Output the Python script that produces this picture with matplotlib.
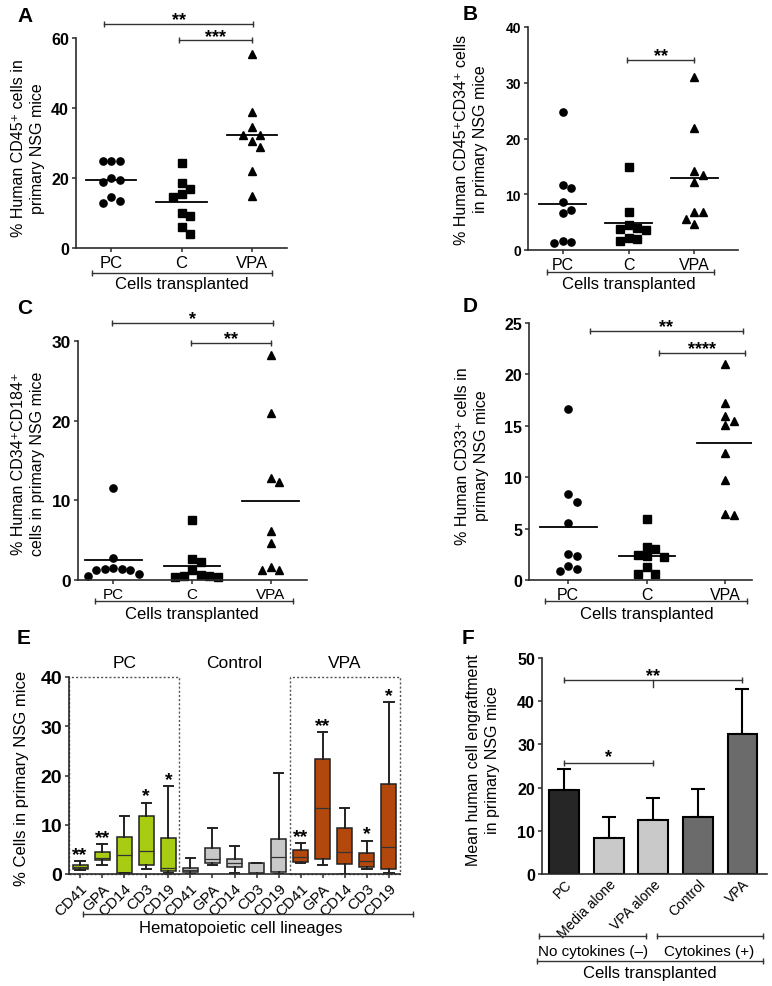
import numpy as np
import matplotlib
matplotlib.use('Agg')
import matplotlib.pyplot as plt
from matplotlib.patches import Rectangle

plt.rcParams['font.family'] = ['Liberation Sans', 'DejaVu Sans']
plt.rcParams['axes.linewidth'] = 1.2

# ---------------- data ----------------
groups = ['PC', 'C', 'VPA']

a_pc = [24.9, 24.9, 24.9, 19.3, 19.0, 20.1, 14.6, 13.0, 13.4]
a_c = [24.2, 18.6, 17.0, 14.7, 15.3, 10.0, 9.1, 5.9, 4.0]
a_vpa = [55.5, 38.9, 34.6, 32.4, 32.4, 30.5, 28.8, 21.9, 14.8]

b_pc = [24.7, 11.6, 11.1, 8.6, 7.2, 6.7, 1.6, 1.2, 1.4]
b_c = [14.9, 6.8, 4.5, 3.7, 3.6, 3.9, 2.1, 1.7, 2.0]
b_vpa = [31.1, 21.9, 14.2, 13.4, 12.2, 6.9, 6.8, 4.6, 5.6]

c_pc = [11.6, 2.7, 1.5, 1.4, 1.2, 0.5, 0.75, 1.2, 1.4]
c_c = [7.5, 2.6, 2.3, 0.6, 0.55, 0.4, 0.4, 0.55, 1.2]
c_vpa = [28.3, 21.0, 12.8, 12.3, 6.1, 4.7, 1.6, 1.2, 1.2]

d_pc = [16.6, 8.4, 7.6, 5.5, 2.5, 2.3, 1.4, 1.1, 0.9]
d_c = [5.9, 3.2, 3.0, 2.3, 2.2, 2.4, 1.3, 0.55, 0.55]
d_vpa = [21.0, 17.2, 16.0, 15.5, 15.1, 12.4, 9.7, 6.3, 6.4]

# panel E: box stats (whislo, q1, med, q3, whishi)
e_lineages = ['CD41', 'GPA', 'CD14', 'CD3', 'CD19']
e_groups = ['PC', 'Control', 'VPA']
e_whislo = [0.75, 1.9, 0.15, 0.95, 0.15,
            0.05, 1.9, 0.3, 0.05, 0.1,
            2.2, 1.8, 0.05, 1.1, 0.15]
e_q1 = [0.95, 2.9, 0.3, 1.9, 0.55,
        0.4, 2.2, 1.5, 0.15, 0.4,
        2.4, 3.1, 2.0, 1.35, 0.95]
e_med = [1.4, 3.3, 3.8, 4.7, 1.2,
         0.8, 3.0, 2.2, 0.3, 3.5,
         3.5, 13.5, 4.5, 2.6, 5.4]
e_q3 = [1.9, 4.5, 7.5, 11.7, 7.4,
        1.2, 5.3, 3.1, 2.2, 7.2,
        4.8, 23.3, 9.3, 4.3, 18.3]
e_whishi = [2.6, 6.0, 11.8, 14.5, 17.8,
            3.2, 9.4, 5.75, 2.3, 20.6,
            6.2, 28.8, 13.3, 6.8, 34.9]
e_stars = ['**', '**', '', '*', '*',
           '', '', '', '', '',
           '**', '**', '', '*', '*']

# panel F
f_labels = ['PC', 'Media alone', 'VPA alone', 'Control', 'VPA']
f_means = [19.4, 8.3, 12.6, 13.3, 32.3]
f_err = [4.8, 4.9, 5.0, 6.4, 10.5]

# ---------------- figure ----------------
W, H = 772, 987
fig = plt.figure(figsize=(W / 100, H / 100), dpi=100)


def px_axes(l, r, t, b):
    return fig.add_axes([l / W, 1 - b / H, (r - l) / W, (b - t) / H])


def style(ax, ysize=11.5, xsize=12):
    ax.spines['top'].set_visible(False)
    ax.spines['right'].set_visible(False)
    for s in ['left', 'bottom']:
        ax.spines[s].set_color('#2b2b2b')
    ax.tick_params(axis='y', labelsize=ysize, length=3, width=1.1, color='#2b2b2b', pad=2)
    ax.tick_params(axis='x', labelsize=xsize, length=3, width=1.1, color='#2b2b2b', pad=2)
    for lab in ax.get_yticklabels():
        lab.set_fontweight('bold')


def swarm_x(ax, pos, vals, gap=8.5):
    # simple beeswarm: place each point at the nearest free offset
    placed = []
    xs = np.zeros(len(vals))
    order = np.argsort(vals)[::-1]
    x0, _ = ax.transData.transform((pos, 0))
    for i in order:
        _, yp = ax.transData.transform((pos, vals[i]))
        for k in [0, 1, -1, 2, -2, 3, -3, 4, -4]:
            xp = x0 + k * gap
            if all((xp - px) ** 2 + (yp - py) ** 2 >= (gap * 0.98) ** 2 for px, py in placed):
                break
        placed.append((xp, yp))
        xs[i] = ax.transData.inverted().transform((xp, yp))[0]
    return xs


def bracket(ax, x0, x1, y, text='', transform=None, cap=5, lw=1.0, fs=13, dy=0.0,
            color='#333333'):
    tr = transform if transform is not None else ax.transData
    ax.plot([x0, x1], [y, y], color=color, lw=lw, clip_on=False, transform=tr)
    ax.plot([x0, x1], [y, y], ls='none', marker='|', ms=cap, mew=lw, color=color,
            clip_on=False, transform=tr)
    if text:
        ax.text((x0 + x1) / 2, y + dy, text, ha='center', va='bottom', fontsize=fs,
                fontweight='bold', transform=tr, clip_on=False)


def dot_panel(ax, series, ylim, yticks, ylabel, lab_xy, xlim, ysize=11.5, xsize=12):
    ax.set_xlim(*xlim)
    ax.set_ylim(*ylim)
    ax.set_yticks(yticks)
    ax.set_xticks([1, 2, 3])
    ax.set_xticklabels(groups)
    style(ax, ysize, xsize)
    markers = ['o', 's', '^']
    for i, (vals, m) in enumerate(zip(series, markers)):
        vals = np.asarray(vals)
        xs = swarm_x(ax, i + 1, vals)
        ax.plot(xs, vals, ls='none', marker=m, ms=5.2 if m != '^' else 5.8,
                color='black', clip_on=False)
        mu = vals.mean()
        ax.plot([i + 1 - 0.36, i + 1 + 0.36], [mu, mu], color='black', lw=1.3)
    ax.set_ylabel(ylabel, fontsize=11.5, linespacing=1.3)
    ax.yaxis.set_label_coords(*lab_xy)


def cells_label(ax, x0, x1, yline, ytext):
    xt = ax.get_xaxis_transform()
    bracket(ax, x0, x1, yline, transform=xt)
    ax.text(2.0, ytext, 'Cells transplanted', transform=xt, ha='center', va='center',
            fontsize=12)


# ---- A ----
axA = px_axes(76, 287, 39, 249)
dot_panel(axA, [a_pc, a_c, a_vpa], (0, 60), [0, 20, 40, 60],
          '% Human CD45\u207a cells in\nprimary NSG mice', (-0.147, 0.48), (0.5, 3.5))
bracket(axA, 0.9, 3.02, 64.1, '**', dy=-1.2)
bracket(axA, 1.97, 3.0, 59.3, '***', dy=-1.2)
cells_label(axA, 0.73, 3.28, -0.119, -0.171)

# ---- B ----
axB = px_axes(528, 738, 28, 251)
dot_panel(axB, [b_pc, b_c, b_vpa], (0, 40), [0, 10, 20, 30, 40],
          '% Human CD45\u207aCD34\u207a cells\nin primary NSG mice', (-0.19, 0.50), (0.475, 3.66),
          ysize=10, xsize=11.5)
bracket(axB, 1.97, 3.0, 34.1, '**', dy=-0.7)
cells_label(axB, 0.77, 3.3, -0.099, -0.152)

# ---- C ----
axC = px_axes(78, 307, 342, 581)
dot_panel(axC, [c_pc, c_c, c_vpa], (0, 30), [0, 10, 20, 30],
          '% Human CD34\u207aCD184\u207a\ncells in primary NSG mice', (-0.144, 0.49), (0.55, 3.46),
          ysize=12.5, xsize=11)
bracket(axC, 0.98, 3.03, 32.2, '*', dy=-0.5)
bracket(axC, 1.98, 3.0, 29.7, '**', dy=-0.5)
cells_label(axC, 0.77, 3.28, -0.088, -0.142)

# ---- D ----
axD = px_axes(529, 752, 324, 581)
dot_panel(axD, [d_pc, d_c, d_vpa], (0, 25), [0, 5, 10, 15, 20, 25],
          '% Human CD33\u207a cells in\nprimary NSG mice', (-0.18, 0.486), (0.5, 3.34),
          ysize=11.5, xsize=11.5)
bracket(axD, 1.28, 3.22, 24.2, '**', dy=-0.4)
bracket(axD, 2.15, 3.25, 22.1, '****', dy=-0.4)
cells_label(axD, 0.71, 3.28, -0.082, -0.132)

# ---- E ----
axE = px_axes(69, 400, 678, 875)
n = len(e_med)
pos = np.arange(1, n + 1)
stats = [dict(med=e_med[i], q1=e_q1[i], q3=e_q3[i], whislo=e_whislo[i],
              whishi=e_whishi[i], fliers=[]) for i in range(n)]
e_colors = ['#a8cc12'] * 5 + ['#c8c8c8'] * 5 + ['#b3480c'] * 5
bp = axE.bxp(stats, positions=pos, widths=0.68, capwidths=0.42, patch_artist=True,
             showfliers=False,
             boxprops=dict(edgecolor='#222222', linewidth=1.1),
             medianprops=dict(color='#333333', linewidth=0.9),
             whiskerprops=dict(color='#222222', linewidth=1.4),
             capprops=dict(color='#222222', linewidth=1.4))
for patch, col in zip(bp['boxes'], e_colors):
    patch.set_facecolor(col)
for i, s in enumerate(e_stars):
    if s:
        axE.text(pos[i], e_whishi[i] - 0.3, s, ha='center', va='bottom',
                 fontsize=14, fontweight='bold')
axE.set_xlim(0.5, 15.5)
axE.set_ylim(0, 40)
axE.set_yticks([0, 10, 20, 30, 40])
axE.set_xticks(pos)
axE.set_xticklabels(e_lineages * 3, rotation=45, ha='right', rotation_mode='anchor')
style(axE, ysize=14, xsize=11)
for x0 in [0.5, 10.5]:
    axE.add_patch(Rectangle((x0, 0), 5, 40, fill=False, ls=(0, (1.5, 1.5)), lw=1.0,
                            edgecolor='#555555', clip_on=False))
for k, g in enumerate(e_groups):
    axE.text(3 + 5 * k, 41.5, g, ha='center', va='bottom', fontsize=12.5)
axE.set_ylabel('% Cells in primary NSG mice', fontsize=12)
axE.yaxis.set_label_coords(-0.121, 0.49)
xt = axE.get_xaxis_transform()
bracket(axE, 1.14, 16.1, -0.203, transform=xt)
axE.text(8.3, -0.27, 'Hematopoietic cell lineages', transform=xt, ha='center', va='center',
         fontsize=12)

# ---- F ----
axF = px_axes(542, 767, 659, 875)
fpos = np.arange(1, len(f_means) + 1)
f_colors = ['#262626', '#c9c9c9', '#c9c9c9', '#6b6b6b', '#6b6b6b']
axF.bar(fpos, f_means, width=0.67, color=f_colors, edgecolor='black', linewidth=1.5, zorder=2)
axF.errorbar(fpos, f_means, yerr=[np.zeros(len(f_err)), f_err], fmt='none', ecolor='black',
             elinewidth=1.5, capsize=5, capthick=1.5, zorder=1)
axF.set_xlim(0.5, 5.55)
axF.set_ylim(0, 50)
axF.set_yticks([0, 10, 20, 30, 40, 50])
axF.set_xticks(fpos)
axF.set_xticklabels(f_labels, rotation=45, ha='right', rotation_mode='anchor')
style(axF, ysize=11.5, xsize=10)
axF.tick_params(axis='x', length=0)
axF.set_ylabel('Mean human cell engraftment\nin primary NSG mice', fontsize=11.5, linespacing=1.3)
axF.yaxis.set_label_coords(-0.187, 0.53)
bracket(axF, 1.0, 5.0, 44.8, '**', dy=-0.8)
axF.plot([3, 3], [44.8, 43.2], color='#333333', lw=1.0, clip_on=False)
bracket(axF, 1.0, 3.0, 25.8, '*', dy=-0.6)
xt = axF.get_xaxis_transform()
bracket(axF, 0.44, 2.84, -0.287, transform=xt)
bracket(axF, 3.07, 5.45, -0.287, transform=xt)
axF.text(1.64, -0.356, 'No cytokines (\u2013)', transform=xt, ha='center', va='center', fontsize=11)
axF.text(4.26, -0.356, 'Cytokines (+)', transform=xt, ha='center', va='center', fontsize=11)
bracket(axF, 0.39, 5.47, -0.403, transform=xt)
axF.text(2.93, -0.454, 'Cells transplanted', transform=xt, ha='center', va='center', fontsize=12)

# panel letters
for letter, (x, y) in zip('ABCDEF', [(17, 16), (463, 15), (17, 308), (463, 307),
                                     (17, 638), (462, 638)]):
    fig.text(x / W, 1 - y / H, letter, fontsize=15, fontweight='bold', ha='left', va='center')

fig.savefig('out.png', dpi=100)
